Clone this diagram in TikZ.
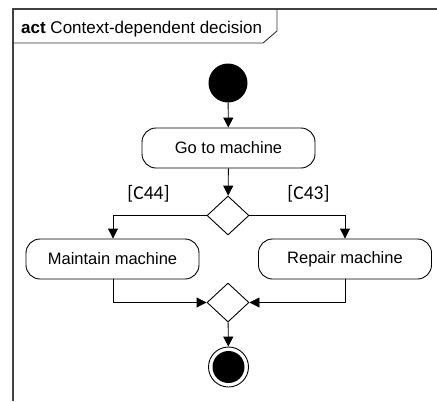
\documentclass[tikz,border=0pt]{standalone}
\usepackage{fontspec}
\setmainfont{Liberation Sans}
\newfontfamily\guardfont{Carlito}
\usetikzlibrary{arrows.meta,shapes.geometric}
\begin{document}
\begin{tikzpicture}[x=1pt,y=-1pt,
  action/.style={draw,line width=0.9pt,rounded corners=14pt,minimum width=173pt,minimum height=40pt,inner sep=0pt,font=\fontsize{16.5}{18}\selectfont},
  decision/.style={draw,line width=0.9pt,diamond,minimum width=42pt,minimum height=39pt,inner sep=0pt},
  flow/.style={line width=0.9pt,-{Triangle[length=10pt,width=10pt]}},
  guard/.style={font=\guardfont\fontsize{19.5}{21}\selectfont,inner sep=0pt},
  framepen/.style={line width=1.5pt,draw=black!75}]
\useasboundingbox (0,0) rectangle (437,402);
% frame
\draw[framepen] (13,401) -- (13,9) -- (437,9);
\draw[line width=0.9pt,draw=black!80] (13,43) -- (263,43) -- (277,31) -- (277,9);
\node[anchor=base west,inner sep=0pt,font=\fontsize{17}{19}\selectfont] (title) at (21,33) {\textbf{act} Context-dependent decision};
% nodes
\node[circle,fill=black,minimum size=39pt,inner sep=0pt] (start) at (228,83) {};
\node[action] (go) at (228.5,148) {Go to machine};
\node[decision] (dec) at (228,215.5) {};
\node[action] (maint) at (112.5,259) {Maintain machine};
\node[action] (rep) at (345,259) {Repair machine};
\node[decision] (merge) at (228,302.5) {};
\node[circle,draw,line width=0.9pt,minimum size=40pt,inner sep=0pt] (end) at (228.5,367) {};
\node[circle,fill=black,minimum size=32pt,inner sep=0pt] (endin) at (end) {};
% connectors
\draw[flow] (start) -- (go);
\draw[flow] (go) -- (dec);
\draw[flow] (dec.west) -| (maint.north -| 113,0);
\draw[flow] (dec.east) -| (rep.north);
\draw[flow] (maint.south -| 113,0) |- (merge.west);
\draw[flow] (rep.south) |- (merge.east);
\draw[flow] (merge) -- (end);
% guards
\node[guard] (g44) at (148.5,194) {[C44]};
\node[guard] (g43) at (308.5,194) {[C43]};
\end{tikzpicture}
\end{document}
